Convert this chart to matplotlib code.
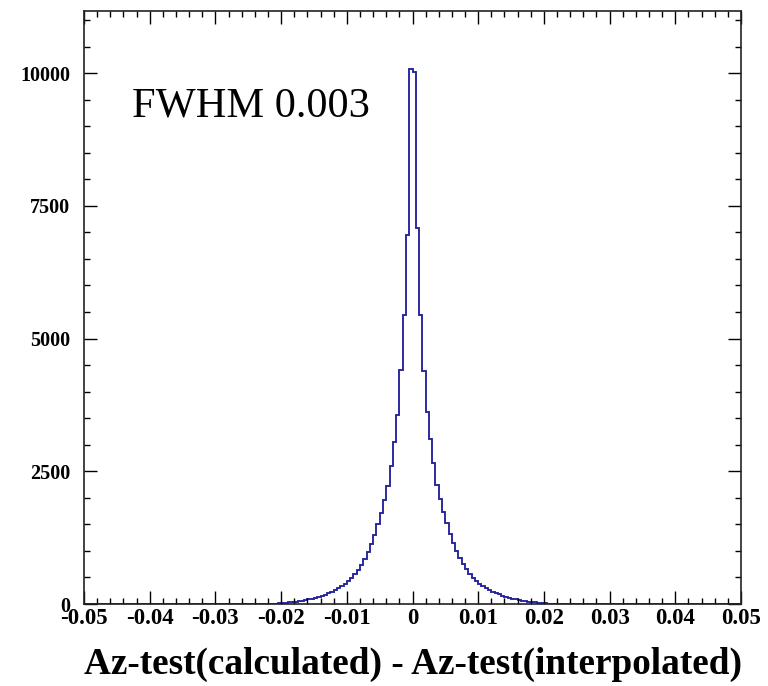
import numpy as np
import matplotlib
matplotlib.use("Agg")
import matplotlib.pyplot as plt
from matplotlib.ticker import MultipleLocator, FixedLocator

# ---- data -----------------------------------------------------------------
x_range = (-0.05, 0.05)
n_bins = 200
# counts of the bins left of zero, listed from the centre outwards
left_counts = [10080, 6950, 5450, 4400, 3560, 3050, 2600, 2230, 1960, 1720,
               1500, 1300, 1130, 980, 850, 740, 640, 560, 490, 430,
               380, 335, 295, 260, 230, 200, 175, 152, 132, 115,
               100, 86, 74, 63, 54, 46, 38, 31, 25, 19, 14, 9, 5]
# counts of the bins right of zero, listed from the centre outwards
right_counts = [10030, 7080, 5450, 4380, 3620, 3100, 2650, 2250, 1980, 1740,
                1520, 1320, 1150, 1000, 870, 755, 655, 570, 495, 435,
                385, 340, 300, 265, 233, 205, 180, 157, 137, 119,
                103, 89, 76, 65, 55, 46, 38, 31, 24, 18, 13, 8, 4]
x_ticks = [-0.05, -0.04, -0.03, -0.02, -0.01, 0, 0.01, 0.02, 0.03, 0.04, 0.05]
x_tick_labels = ["-0.05", "-0.04", "-0.03", "-0.02", "-0.01", "0",
                 "0.01", "0.02", "0.03", "0.04", "0.05"]
y_ticks = [0, 2500, 5000, 7500, 10000]
y_tick_labels = ["0", "2500", "5000", "7500", "10000"]
y_max = 11170
x_label = "Az-test(calculated) - Az-test(interpolated)"
annotation = "FWHM 0.003"

# ---- build histogram ------------------------------------------------------
edges = np.linspace(x_range[0], x_range[1], n_bins + 1)
values = np.zeros(n_bins)
centre = n_bins // 2
values[centre - len(left_counts):centre] = left_counts[::-1]
values[centre:centre + len(right_counts)] = right_counts

# ---- figure -------------------------------------------------------------
fig = plt.figure(figsize=(7.68, 6.86), dpi=100)
ax = fig.add_axes([84 / 768, 1 - 604 / 686, (741 - 84) / 768, (604 - 11) / 686])

ax.stairs(values, edges, color="#23239c", linewidth=1.35)

ax.set_xlim(*x_range)
ax.set_ylim(0, y_max)

serif = ["Liberation Serif", "DejaVu Serif"]
ax.xaxis.set_major_locator(FixedLocator(x_ticks))
ax.set_xticklabels(x_tick_labels, family=serif, fontweight="bold", fontsize=16.5)
ax.xaxis.set_minor_locator(MultipleLocator(0.002))
ax.yaxis.set_major_locator(FixedLocator(y_ticks))
ax.set_yticklabels(y_tick_labels, family=serif, fontweight="bold", fontsize=14.5)
ax.yaxis.set_minor_locator(MultipleLocator(500))

ax.tick_params(which="both", direction="in", top=True, right=True, color="black")
ax.tick_params(which="major", length=9.5, width=1.0)
ax.tick_params(which="minor", length=4.5, width=1.0)
ax.tick_params(axis="x", which="major", pad=3)
ax.tick_params(axis="y", which="major", pad=10)

for s in ax.spines.values():
    s.set_linewidth(1.2)
    s.set_color("#222222")

ax.set_xlabel(x_label, family=serif, fontweight="bold", fontsize=26.8, labelpad=13)

ax.text(0.073, 0.822, annotation, transform=ax.transAxes, family=serif,
        fontsize=30.5, ha="left", va="baseline")

fig.savefig("out.png", dpi=100, facecolor="white")
